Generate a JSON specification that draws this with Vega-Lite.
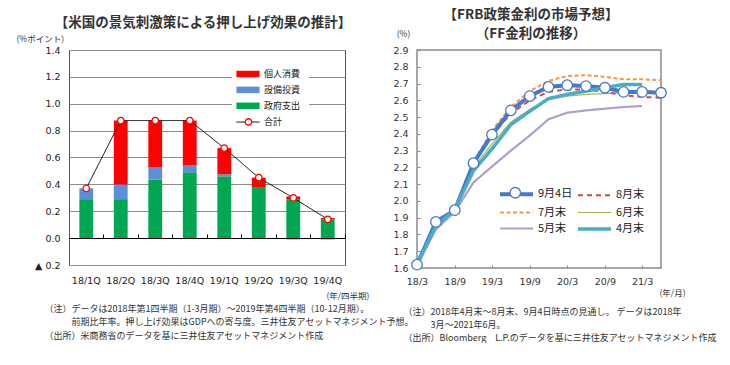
{
  "$schema": "https://vega.github.io/schema/vega-lite/v6.json",
  "background": "white",
  "padding": {"left": 15, "top": 7, "right": 0, "bottom": 0},
  "config": {
    "font": "Noto Sans CJK JP",
    "axis": {"labelFont": "DejaVu Sans", "titleFont": "Noto Sans CJK JP", "labelColor": "#222", "titleColor": "#333", "titleFontWeight": "normal"},
    "legend": {"labelFont": "Noto Sans CJK JP", "labelColor": "#222"},
    "title": {"font": "Noto Sans CJK JP", "color": "#333"}
  },
  "bounds": "flush",
  "spacing": 72,
  "resolve": {
    "scale": {"color": "independent", "shape": "independent", "stroke": "independent", "strokeDash": "independent", "strokeWidth": "independent"},
    "legend": {"color": "independent", "shape": "independent", "stroke": "independent", "strokeDash": "independent", "strokeWidth": "independent"}
  },
  "datasets": {
    "left_bars": [
      {"q":"18/1Q","c":"政府支出","v":0.29,"o":1},{"q":"18/1Q","c":"設備投資","v":0.08,"o":2},{"q":"18/1Q","c":"個人消費","v":0,"o":3},
      {"q":"18/2Q","c":"政府支出","v":0.29,"o":1},{"q":"18/2Q","c":"設備投資","v":0.11,"o":2},{"q":"18/2Q","c":"個人消費","v":0.475,"o":3},
      {"q":"18/3Q","c":"政府支出","v":0.435,"o":1},{"q":"18/3Q","c":"設備投資","v":0.09,"o":2},{"q":"18/3Q","c":"個人消費","v":0.35,"o":3},
      {"q":"18/4Q","c":"政府支出","v":0.49,"o":1},{"q":"18/4Q","c":"設備投資","v":0.05,"o":2},{"q":"18/4Q","c":"個人消費","v":0.335,"o":3},
      {"q":"19/1Q","c":"政府支出","v":0.46,"o":1},{"q":"19/1Q","c":"設備投資","v":0.015,"o":2},{"q":"19/1Q","c":"個人消費","v":0.195,"o":3},
      {"q":"19/2Q","c":"政府支出","v":0.38,"o":1},{"q":"19/2Q","c":"設備投資","v":0.0,"o":2},{"q":"19/2Q","c":"個人消費","v":0.07,"o":3},
      {"q":"19/3Q","c":"政府支出","v":0.29,"o":1},{"q":"19/3Q","c":"設備投資","v":-0.01,"o":2},{"q":"19/3Q","c":"個人消費","v":0.02,"o":3},
      {"q":"19/4Q","c":"政府支出","v":0.14,"o":1},{"q":"19/4Q","c":"設備投資","v":-0.01,"o":2},{"q":"19/4Q","c":"個人消費","v":0.01,"o":3}
    ],
    "left_total": [
      {"q":"18/1Q","v":0.37},{"q":"18/2Q","v":0.875},{"q":"18/3Q","v":0.875},{"q":"18/4Q","v":0.875},
      {"q":"19/1Q","v":0.67},{"q":"19/2Q","v":0.45},{"q":"19/3Q","v":0.30},{"q":"19/4Q","v":0.14}
    ],
    "right": [
      {"d":"2018-03-01","s":"5月末","v":1.62},{"d":"2018-06-01","s":"5月末","v":1.83},{"d":"2018-09-01","s":"5月末","v":1.935},{"d":"2018-12-01","s":"5月末","v":2.11},{"d":"2019-03-01","s":"5月末","v":2.205},{"d":"2019-06-01","s":"5月末","v":2.30},{"d":"2019-09-01","s":"5月末","v":2.39},{"d":"2019-12-01","s":"5月末","v":2.487},{"d":"2020-03-01","s":"5月末","v":2.526},{"d":"2020-06-01","s":"5月末","v":2.54},{"d":"2020-09-01","s":"5月末","v":2.55},{"d":"2020-12-01","s":"5月末","v":2.56},{"d":"2021-03-01","s":"5月末","v":2.566},
      {"d":"2018-03-01","s":"6月末","v":1.62},{"d":"2018-06-01","s":"6月末","v":1.87},{"d":"2018-09-01","s":"6月末","v":1.95},{"d":"2018-12-01","s":"6月末","v":2.20},{"d":"2019-03-01","s":"6月末","v":2.34},{"d":"2019-06-01","s":"6月末","v":2.47},{"d":"2019-09-01","s":"6月末","v":2.545},{"d":"2019-12-01","s":"6月末","v":2.605},{"d":"2020-03-01","s":"6月末","v":2.625},{"d":"2020-06-01","s":"6月末","v":2.635},{"d":"2020-09-01","s":"6月末","v":2.64},{"d":"2020-12-01","s":"6月末","v":2.645},{"d":"2021-03-01","s":"6月末","v":2.655},
      {"d":"2018-03-01","s":"8月末","v":1.62},{"d":"2018-06-01","s":"8月末","v":1.875},{"d":"2018-09-01","s":"8月末","v":1.945},{"d":"2018-12-01","s":"8月末","v":2.22},{"d":"2019-03-01","s":"8月末","v":2.39},{"d":"2019-06-01","s":"8月末","v":2.52},{"d":"2019-09-01","s":"8月末","v":2.60},{"d":"2019-12-01","s":"8月末","v":2.65},{"d":"2020-03-01","s":"8月末","v":2.665},{"d":"2020-06-01","s":"8月末","v":2.665},{"d":"2020-09-01","s":"8月末","v":2.65},{"d":"2020-12-01","s":"8月末","v":2.63},{"d":"2021-03-01","s":"8月末","v":2.62},{"d":"2021-06-01","s":"8月末","v":2.615},
      {"d":"2018-03-01","s":"7月末","v":1.62},{"d":"2018-06-01","s":"7月末","v":1.88},{"d":"2018-09-01","s":"7月末","v":1.95},{"d":"2018-12-01","s":"7月末","v":2.23},{"d":"2019-03-01","s":"7月末","v":2.42},{"d":"2019-06-01","s":"7月末","v":2.56},{"d":"2019-09-01","s":"7月末","v":2.655},{"d":"2019-12-01","s":"7月末","v":2.715},{"d":"2020-03-01","s":"7月末","v":2.745},{"d":"2020-06-01","s":"7月末","v":2.75},{"d":"2020-09-01","s":"7月末","v":2.74},{"d":"2020-12-01","s":"7月末","v":2.725},{"d":"2021-03-01","s":"7月末","v":2.725},{"d":"2021-06-01","s":"7月末","v":2.72},
      {"d":"2018-03-01","s":"9月4日","v":1.62},{"d":"2018-06-01","s":"9月4日","v":1.875},{"d":"2018-09-01","s":"9月4日","v":1.945},{"d":"2018-12-01","s":"9月4日","v":2.225},{"d":"2019-03-01","s":"9月4日","v":2.395},{"d":"2019-06-01","s":"9月4日","v":2.54},{"d":"2019-09-01","s":"9月4日","v":2.625},{"d":"2019-12-01","s":"9月4日","v":2.68},{"d":"2020-03-01","s":"9月4日","v":2.69},{"d":"2020-06-01","s":"9月4日","v":2.685},{"d":"2020-09-01","s":"9月4日","v":2.675},{"d":"2020-12-01","s":"9月4日","v":2.65},{"d":"2021-03-01","s":"9月4日","v":2.65},{"d":"2021-06-01","s":"9月4日","v":2.645},
      {"d":"2018-03-01","s":"4月末","v":1.62},{"d":"2018-06-01","s":"4月末","v":1.85},{"d":"2018-09-01","s":"4月末","v":1.95},{"d":"2018-12-01","s":"4月末","v":2.18},{"d":"2019-03-01","s":"4月末","v":2.31},{"d":"2019-06-01","s":"4月末","v":2.455},{"d":"2019-09-01","s":"4月末","v":2.535},{"d":"2019-12-01","s":"4月末","v":2.61},{"d":"2020-03-01","s":"4月末","v":2.635},{"d":"2020-06-01","s":"4月末","v":2.655},{"d":"2020-09-01","s":"4月末","v":2.675},{"d":"2020-12-01","s":"4月末","v":2.695},{"d":"2021-03-01","s":"4月末","v":2.695}
    ]
  },
  "hconcat": [
    {
      "width": 276,
      "height": 215,
      "view": {"stroke": "#555", "strokeWidth": 1},
      "title": {"text": "【米国の景気刺激策による押し上げ効果の推計】", "fontSize": 13.5, "fontWeight": "bold", "anchor": "middle", "frame": "group", "dx": -4, "offset": 5},
      "resolve": {"axis": {"x": "independent"}},
      "layer": [
        {
          "data": {"name": "left_bars"},
          "mark": {"type": "bar"},
          "encoding": {
            "x": {"field": "q", "type": "ordinal", "sort": null, "scale": {"paddingInner": 0.6, "paddingOuter": 0.3},
              "axis": {"orient": "bottom", "domain": false, "ticks": false, "grid": false, "labelAngle": 0, "labelPadding": 10, "labelFontSize": 9.5,
                "title": "(年/四半期)", "titleX": 300, "titleY": 30, "titleAlign": "right", "titleBaseline": "middle", "titleFontSize": 8.5}},
            "y": {"field": "v", "type": "quantitative", "stack": "zero", "scale": {"domain": [-0.2, 1.4], "nice": false, "zero": false},
              "axis": {"values": [-0.2, 0, 0.2, 0.4, 0.6, 0.8, 1, 1.2, 1.4], "tickCount": 20, "labelExpr": "datum.value < 0 ? '▲ ' + format(-datum.value, '.1f') : format(datum.value, '.1f')",
                "grid": true, "gridColor": "#8c8c8c", "gridWidth": 1.2, "domain": false, "ticks": false, "labelPadding": 9, "labelFontSize": 9.5, "labelFlush": false, "labelOverlap": false,
                "title": "(%ポイント)", "titleAngle": 0, "titleAlign": "left", "titleBaseline": "bottom", "titleX": -53, "titleY": -7, "titleFontSize": 8.5}},
            "color": {"field": "c", "type": "nominal",
              "scale": {"domain": ["個人消費", "設備投資", "政府支出"], "range": ["#FF0000", "#5B8FD8", "#00A651"]},
              "legend": {"orient": "none", "legendX": 163, "legendY": 8, "title": null, "symbolType": "M-1.6,-0.45H1.6V0.45H-1.6Z", "symbolSize": 210,
                "labelFontSize": 9, "labelOffset": 8, "rowPadding": 2.9, "padding": 8, "fillColor": "white"}},
            "order": {"field": "o", "type": "quantitative"}
          }
        },
        {
          "data": {"name": "left_total"},
          "mark": {"type": "line", "color": "black", "strokeWidth": 1},
          "encoding": {
            "x": {"field": "q", "type": "ordinal", "sort": null,
              "axis": {"orient": "bottom", "offset": -27, "labels": false, "ticks": true, "tickSize": -4, "tickColor": "#000", "bandPosition": 1.75,
                "domain": true, "domainColor": "#000", "domainWidth": 1, "grid": false, "zindex": 1,
                "title": ["（注）データは2018年第1四半期（1-3月期）～2019年第4四半期（10-12月期）。", "\u200B　　　前期比年率。押し上げ効果はGDPへの寄与度。三井住友アセットマネジメント予想。", "（出所）米商務省のデータを基に三井住友アセットマネジメント作成"],
                "titleX": -25, "titleY": 66, "titleAlign": "left", "titleAnchor": "start", "titleBaseline": "top", "titleFontSize": 9, "titleLineHeight": 13.5, "titleColor": "#333"}},
            "y": {"field": "v", "type": "quantitative"},
            "strokeDash": {"datum": "合計", "scale": {"range": [[1, 0]]},
              "legend": {"orient": "none", "legendX": 163, "legendY": 56, "title": null, "symbolType": "M-1.6,0H1.6", "symbolSize": 210, "symbolStrokeWidth": 1,
                "labelFontSize": 9, "labelOffset": 8, "padding": 8}}
          }
        },
        {
          "data": {"name": "left_total"},
          "mark": {"type": "point", "filled": true, "fill": "white", "strokeWidth": 1.3, "size": 42, "opacity": 1},
          "encoding": {
            "x": {"field": "q", "type": "ordinal", "sort": null, "axis": null},
            "y": {"field": "v", "type": "quantitative"},
            "stroke": {"datum": "合計●", "scale": {"range": ["#FF0000"]}},
            "shape": {"datum": "合計●", "scale": {"range": ["circle"]},
              "legend": {"orient": "none", "legendX": 175.5, "legendY": 68, "title": null, "symbolSize": 42, "symbolFillColor": "white", "symbolStrokeColor": "#FF0000",
                "symbolStrokeWidth": 1.3, "labelColor": "rgba(0,0,0,0)", "labelFontSize": 1, "padding": 0}}
          }
        }
      ]
    },
    {
      "width": 244,
      "height": 218,
      "view": {"stroke": "#8a8a8a", "strokeWidth": 1.5},
      "title": {"text": ["【FRB政策金利の市場予想】", "（FF金利の推移）"], "fontSize": 13.5, "fontWeight": "bold", "lineHeight": 18.5, "anchor": "middle", "frame": "group", "dx": -8, "offset": -11},
      "data": {"name": "right"},
      "resolve": {"axis": {"x": "independent"}},
      "layer": [
        {
          "mark": {"type": "line"},
          "encoding": {
            "x": {"field": "d", "type": "temporal",
              "scale": {"type": "utc", "domain": [{"year": 2018, "month": 3, "date": 1, "utc": true}, {"year": 2021, "month": 6, "date": 1, "utc": true}]},
              "axis": {"orient": "bottom", "values": [{"year": 2018, "month": 3, "date": 1, "utc": true}, {"year": 2018, "month": 9, "date": 1, "utc": true}, {"year": 2019, "month": 3, "date": 1, "utc": true}, {"year": 2019, "month": 9, "date": 1, "utc": true}, {"year": 2020, "month": 3, "date": 1, "utc": true}, {"year": 2020, "month": 9, "date": 1, "utc": true}, {"year": 2021, "month": 3, "date": 1, "utc": true}],
                "tickCount": 20, "format": "%y/%-m", "labelFlush": false, "labelOverlap": false, "grid": false, "domain": false, "ticks": true, "tickSize": -3, "tickColor": "#888",
                "labelPadding": 11, "labelFontSize": 9.5, "labelColor": "#333",
                "title": "(年/月)", "titleX": 242, "titleY": 24, "titleAlign": "left", "titleBaseline": "middle", "titleFontSize": 8.5}},
            "y": {"field": "v", "type": "quantitative", "scale": {"domain": [1.6, 2.9], "nice": false, "zero": false},
              "axis": {"values": [1.6, 1.7, 1.8, 1.9, 2.0, 2.1, 2.2, 2.3, 2.4, 2.5, 2.6, 2.7, 2.8, 2.9], "tickCount": 30, "format": ".1f", "grid": false, "domain": false,
                "ticks": true, "tickSize": -3, "tickColor": "#888", "labelPadding": 12, "labelFontSize": 9.5, "labelColor": "#333", "labelFlush": false, "labelOverlap": false,
                "title": "(%)", "titleAngle": 0, "titleAlign": "center", "titleBaseline": "bottom", "titleX": -14, "titleY": -12, "titleFontSize": 8.5}},
            "color": {"field": "s", "type": "nominal",
              "scale": {"domain": ["9月4日", "8月末", "7月末", "6月末", "5月末", "4月末"], "range": ["#4878CC", "#CC4B48", "#F79646", "#9BBB59", "#B09FCC", "#4BACC6"]},
              "legend": {"orient": "none", "legendX": 86, "legendY": 130.5, "columns": 2, "direction": "horizontal", "title": null, "symbolType": "M-2.2,0H2.2", "symbolSize": 225,
                "labelFontSize": 11, "labelOffset": 12, "rowPadding": 1.5, "columnPadding": -2, "padding": 4}},
            "strokeDash": {"field": "s", "type": "nominal",
              "scale": {"domain": ["9月4日", "8月末", "7月末", "6月末", "5月末", "4月末"], "range": [[1, 0], [5, 4], [4, 2.5], [1, 0], [1, 0], [1, 0]]}},
            "strokeWidth": {"field": "s", "type": "nominal",
              "scale": {"type": "ordinal", "domain": ["9月4日", "8月末", "7月末", "6月末", "5月末", "4月末"], "range": [4, 2, 2, 1.2, 2.2, 3.5]}}
          }
        },
        {
          "transform": [{"filter": "datum.s == '9月4日'"}],
          "mark": {"type": "point", "filled": true, "fill": "white", "strokeWidth": 1.3, "size": 110, "opacity": 1},
          "encoding": {
            "x": {"field": "d", "type": "temporal",
              "axis": {"orient": "bottom", "labels": false, "ticks": false, "domain": false, "grid": false,
                "title": ["（注）2018年4月末～8月末、9月4日時点の見通し。 データは2018年", "\u200B　　　3月～2021年6月。", "（出所）Bloomberg　L.P.のデータを基に三井住友アセットマネジメント作成"],
                "titleX": -14, "titleY": 39.5, "titleAlign": "left", "titleAnchor": "start", "titleBaseline": "top", "titleFontSize": 9, "titleLineHeight": 12.8, "titleColor": "#333"}},
            "y": {"field": "v", "type": "quantitative"},
            "stroke": {"datum": "9月4日●", "scale": {"range": ["#4878CC"]}},
            "shape": {"datum": "9月4日●", "scale": {"range": ["circle"]},
              "legend": {"orient": "none", "legendX": 92.25, "legendY": 136.75, "title": null, "symbolSize": 110, "symbolFillColor": "white", "symbolStrokeColor": "#4878CC",
                "symbolStrokeWidth": 1.3, "labelColor": "rgba(0,0,0,0)", "labelFontSize": 1, "padding": 0}}
          }
        }
      ]
    }
  ]
}
